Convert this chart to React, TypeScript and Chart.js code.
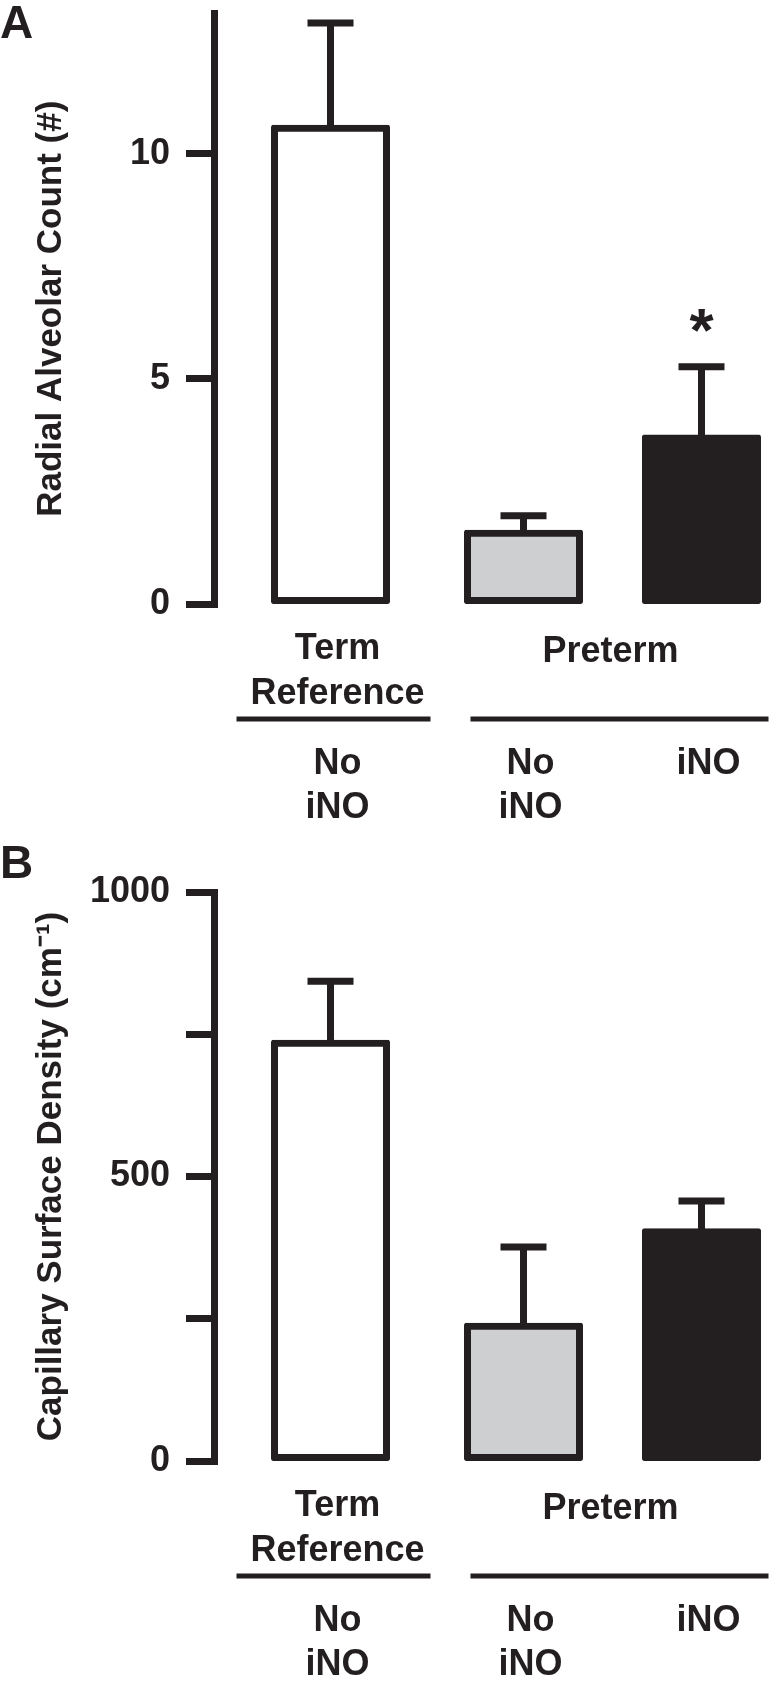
import React, { useEffect, useRef } from "react";
import { Chart, registerables } from "chart.js";

Chart.register(...registerables);

const INK = "#231f20";
const GREY_FILL = "#cdcfd0";
const WHITE_FILL = "#ffffff";
const FONT = "'Liberation Sans', Arial, Helvetica, sans-serif";

// ---------------- data ----------------
const groups = ["Term Reference", "Preterm"];
const groupLabelLines = [["Term", "Reference"], ["Preterm"]];
const treatmentNames = ["No iNO", "iNO"];
// treatment text under each bar (Term/No iNO, Preterm/No iNO, Preterm/iNO)
const barTreatmentLines = [["No", "iNO"], ["No", "iNO"], ["iNO"]];

// Panel A: radial alveolar count (mean, SEM)
const racNoINO: (number | null)[] = [10.57, 1.57];
const racNoINOSem: (number | null)[] = [2.34, 0.39];
const racINO: (number | null)[] = [null, 3.69];
const racINOSem: (number | null)[] = [null, 1.58];
const racMarks = ["", "", "*"];
const racTickLabels = ["0", "5", "10"];

// Panel B: capillary surface density (mean, SEM)
const csdNoINO: (number | null)[] = [734, 237];
const csdNoINOSem: (number | null)[] = [109, 139];
const csdINO: (number | null)[] = [null, 403];
const csdINOSem: (number | null)[] = [null, 54];
const csdMarks = ["", "", ""];
const csdTickLabels = ["0", "", "500", "", "1000"];

type PanelSpec = {
  letter: string;
  title: string;
  noINO: (number | null)[];
  noINOSem: (number | null)[];
  ino: (number | null)[];
  inoSem: (number | null)[];
  marks: string[];
  tickLabels: string[];
  yMax: number;
  step: number;
  height: number;
  padTop: number;
  padBottom: number;
  letterBaseline: number;
};

const panelA: PanelSpec = {
  letter: "A",
  title: "Radial Alveolar Count (#)",
  noINO: racNoINO,
  noINOSem: racNoINOSem,
  ino: racINO,
  inoSem: racINOSem,
  marks: racMarks,
  tickLabels: racTickLabels,
  yMax: 13.12,
  step: 5,
  height: 845,
  padTop: 13.5,
  padBottom: 241,
  letterBaseline: 38,
};

const panelB: PanelSpec = {
  letter: "B",
  title: "Capillary Surface Density (cm\u207B\u00B9)",
  noINO: csdNoINO,
  noINOSem: csdNoINOSem,
  ino: csdINO,
  inoSem: csdINOSem,
  marks: csdMarks,
  tickLabels: csdTickLabels,
  yMax: 1000,
  step: 250,
  height: 844,
  padTop: 47,
  padBottom: 228,
  letterBaseline: 33,
};

function fontAvailable(name: string): boolean {
  const c = document.createElement("canvas").getContext("2d");
  if (!c) return false;
  const s = "Radial Alveolar Count";
  c.font = "bold 40px monospace";
  const w0 = c.measureText(s).width;
  c.font = `bold 40px "${name}", monospace`;
  const w1 = c.measureText(s).width;
  return Math.abs(w0 - w1) > 0.5;
}

// bar slots: [datasetIndex, dataIndex]
const SLOTS: [number, number][] = [
  [0, 0],
  [0, 1],
  [1, 1],
];

function buildChart(canvas: HTMLCanvasElement, p: PanelSpec, narrow: boolean) {
  const titleFont: any = narrow
    ? { family: "'Liberation Sans Narrow', 'Liberation Sans', Arial, sans-serif", size: 43, weight: "bold" }
    : { family: FONT, size: 35, weight: "bold" };
  const titlePad = narrow ? 24 : 30;
  const sems = [p.noINOSem, p.inoSem];

  const decorations = {
    id: "decorations",
    afterDatasetsDraw(chart: any) {
      const ctx = chart.ctx;
      const ys = chart.scales.y;
      ctx.save();
      ctx.strokeStyle = INK;
      ctx.fillStyle = INK;
      ctx.lineWidth = 7;
      ctx.lineCap = "butt";
      SLOTS.forEach(([di, i], k) => {
        const v = chart.data.datasets[di].data[i];
        const e = sems[di][i];
        if (v == null || e == null) return;
        const el = chart.getDatasetMeta(di).data[i];
        const x = el.x;
        const yBar = ys.getPixelForValue(v);
        const yCap = ys.getPixelForValue(v + e);
        ctx.beginPath();
        ctx.moveTo(x, yBar);
        ctx.lineTo(x, yCap);
        ctx.moveTo(x - 23, yCap);
        ctx.lineTo(x + 23, yCap);
        ctx.stroke();
        const mark = p.marks[k];
        if (mark) {
          ctx.font = `bold 62px ${FONT}`;
          ctx.textAlign = "center";
          ctx.textBaseline = "alphabetic";
          const m = ctx.measureText(mark);
          const cy = yCap - 46;
          ctx.fillText(mark, x, cy + (m.actualBoundingBoxAscent - m.actualBoundingBoxDescent) / 2);
        }
      });
      ctx.restore();
    },
    afterDraw(chart: any) {
      const ctx = chart.ctx;
      const y0 = chart.scales.y.getPixelForValue(0);
      const bars = SLOTS.map(([di, i]) => chart.getDatasetMeta(di).data[i]);
      ctx.save();
      ctx.fillStyle = INK;
      ctx.font = `bold 36px ${FONT}`;
      ctx.textAlign = "center";
      ctx.textBaseline = "alphabetic";
      const termX = bars[0].x + 7;
      groupLabelLines[0].forEach((t, j) => ctx.fillText(t, termX, y0 + 55 + j * 45));
      const preX = (bars[1].x + bars[2].x) / 2 - 2;
      groupLabelLines[1].forEach((t, j) => ctx.fillText(t, preX, y0 + 58 + j * 45));
      // grouping rules
      ctx.fillRect(bars[0].x - 94, y0 + 112.5, 194, 5);
      const l2 = bars[1].x - 53;
      ctx.fillRect(l2, y0 + 112.5, bars[2].x + 67 - l2, 5);
      // treatment labels
      barTreatmentLines.forEach((lines, k) =>
        lines.forEach((t, j) => ctx.fillText(t, bars[k].x + 7, y0 + 170 + j * 44))
      );
      // panel letter
      ctx.textAlign = "left";
      ctx.font = `bold 46px ${FONT}`;
      ctx.fillText(p.letter, 0, p.letterBaseline);
      ctx.restore();
    },
  };

  const barCommon: any = {
    borderColor: INK,
    borderWidth: 7,
    borderSkipped: false,
    inflateAmount: 3.5,
    borderRadius: 2,
    clip: false,
    skipNull: true,
    categoryPercentage: 1.2624,
    barPercentage: 0.9,
    maxBarThickness: 112,
  };

  return new Chart(canvas, {
    type: "bar",
    data: {
      labels: groups,
      datasets: [
        { label: treatmentNames[0], data: p.noINO, backgroundColor: [WHITE_FILL, GREY_FILL], ...barCommon },
        { label: treatmentNames[1], data: p.ino, backgroundColor: INK, ...barCommon },
      ],
    } as any,
    options: {
      responsive: false,
      animation: false,
      devicePixelRatio: 1,
      layout: { padding: { left: 0, top: p.padTop, right: 165.5, bottom: p.padBottom } },
      plugins: { legend: { display: false }, tooltip: { enabled: false } },
      scales: {
        x: { type: "category", display: false, offset: false, grid: { display: false } },
        y: {
          type: "linear",
          position: "left",
          weight: 1,
          min: 0,
          max: p.yMax,
          ticks: {
            stepSize: p.step,
            includeBounds: false,
            padding: 16,
            color: INK,
            font: { family: FONT, size: 36, weight: "bold" },
            callback: (_v: any, i: number) => p.tickLabels[i] ?? "",
          },
          grid: {
            display: true,
            drawOnChartArea: false,
            drawTicks: true,
            tickLength: 28,
            lineWidth: 7,
            tickWidth: 7,
            color: INK,
            tickColor: INK,
          },
          border: { display: true, width: 7, color: INK },
          title: {
            display: true,
            text: p.title,
            color: INK,
            font: titleFont,
            padding: { top: titlePad, bottom: 0 },
          },
          afterFit: (s: any) => {
            s.width = 214;
            s.paddingTop = 0;
            s.paddingBottom = 0;
          },
        },
        gap: {
          type: "linear",
          position: "left",
          weight: 0,
          display: true,
          grid: { display: false },
          border: { display: false },
          ticks: { display: false },
          afterFit: (s: any) => {
            s.width = 116.5;
          },
        },
      },
    } as any,
    plugins: [decorations],
  });
}

function Panel({ spec }: { spec: PanelSpec }) {
  const ref = useRef<HTMLCanvasElement | null>(null);
  useEffect(() => {
    if (!ref.current) return;
    const narrow = fontAvailable("Liberation Sans Narrow");
    const chart = buildChart(ref.current, spec, narrow);
    return () => chart.destroy();
  }, [spec]);
  return <canvas ref={ref} width={778} height={spec.height} style={{ display: "block", width: 778, height: spec.height }} />;
}

export default function App() {
  return (
    <div style={{ position: "absolute", left: 0, top: 0, width: 778, height: 1689, background: "#ffffff" }}>
      <Panel spec={panelA} />
      <Panel spec={panelB} />
    </div>
  );
}
